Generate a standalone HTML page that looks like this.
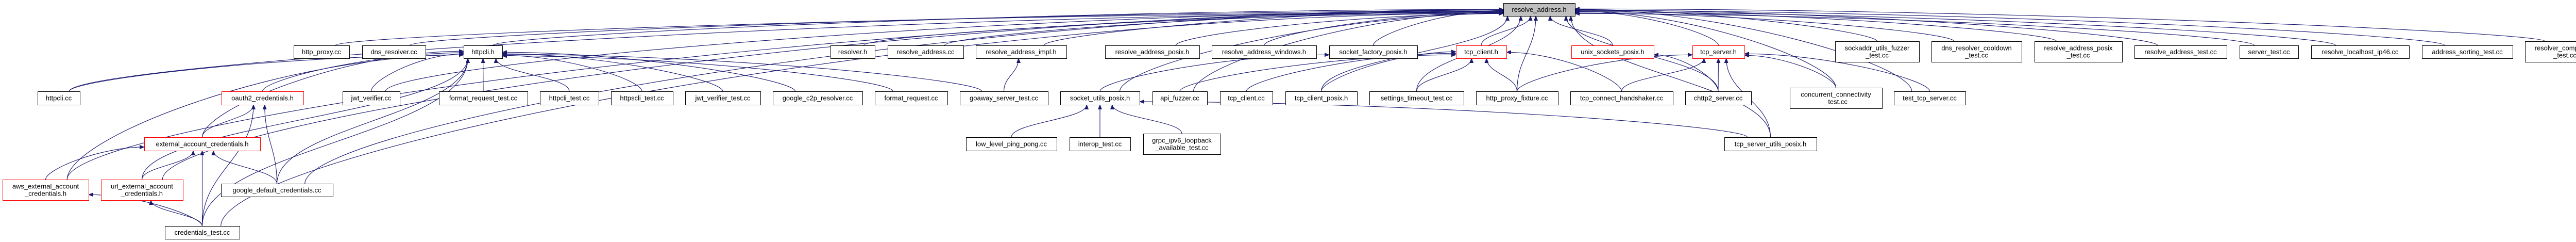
<!DOCTYPE html>
<html><head><meta charset="utf-8">
<style>
html,body{margin:0;padding:0;background:#fff;width:5058px;height:469px;overflow:hidden}
svg{display:block}
text{font-family:"Liberation Sans",sans-serif;font-size:13px;fill:#000}
</style></head>
<body>
<svg id="g" width="5058" height="469" xmlns="http://www.w3.org/2000/svg">
<defs><marker id="a" markerWidth="10" markerHeight="8" refX="9" refY="4" orient="auto" markerUnits="userSpaceOnUse"><path d="M0,0 L10,4 L0,8 Z" fill="#191970"/></marker></defs>
<g id="e"></g><g id="n"></g>
</svg>
<script>
var N={
RA:[2918,3057,6,31,'g',['resolve_address.h']],
http_proxy:[570,678,88,113,'',['http_proxy.cc']],
dns_resolver:[703,826,88,113,'',['dns_resolver.cc']],
httpcli_h:[900,975,88,113,'',['httpcli.h']],
resolver_h:[1612,1698,88,113,'',['resolver.h']],
ra_cc:[1723,1870,88,113,'',['resolve_address.cc']],
ra_impl:[1894,2070,88,113,'',['resolve_address_impl.h']],
ra_posix:[2145,2328,88,113,'',['resolve_address_posix.h']],
ra_win:[2352,2555,88,113,'',['resolve_address_windows.h']],
sfp:[2580,2751,88,113,'',['socket_factory_posix.h']],
tch_h:[2826,2924,88,113,'r',['tcp_client.h']],
usp:[3050,3210,88,113,'r',['unix_sockets_posix.h']],
tsh:[3285,3386,88,113,'r',['tcp_server.h']],
sockaddr:[3562,3725,80,120,'',['sockaddr_utils_fuzzer','_test.cc']],
dnscool:[3749,3924,80,120,'',['dns_resolver_cooldown','_test.cc']],
rapt:[3949,4119,80,120,'',['resolve_address_posix','_test.cc']],
ratest:[4143,4322,88,113,'',['resolve_address_test.cc']],
server_test:[4347,4461,88,113,'',['server_test.cc']],
localhost:[4486,4676,88,113,'',['resolve_localhost_ip46.cc']],
addrsort:[4701,4877,88,113,'',['address_sorting_test.cc']],
rescomp:[4901,5056,80,120,'',['resolver_component','_test.cc']],
httpcli_cc:[73,155,177,203,'',['httpcli.cc']],
oauth2:[430,589,177,203,'r',['oauth2_credentials.h']],
jwt_ver:[665,776,177,203,'',['jwt_verifier.cc']],
frt:[852,1024,177,203,'',['format_request_test.cc']],
httpcli_test:[1048,1162,177,203,'',['httpcli_test.cc']],
httpscli_test:[1186,1306,177,203,'',['httpscli_test.cc']],
jwt_vt:[1330,1476,177,203,'',['jwt_verifier_test.cc']],
c2p:[1500,1674,177,203,'',['google_c2p_resolver.cc']],
format_req:[1698,1839,177,203,'',['format_request.cc']],
goaway:[1863,2034,177,203,'',['goaway_server_test.cc']],
sup:[2058,2212,177,203,'',['socket_utils_posix.h']],
api_fuzzer:[2237,2343,177,203,'',['api_fuzzer.cc']],
tcp_client_cc:[2368,2470,177,203,'',['tcp_client.cc']],
tcp_client_posix:[2495,2634,177,203,'',['tcp_client_posix.h']],
settings:[2658,2841,177,203,'',['settings_timeout_test.cc']],
hpf:[2865,3024,177,203,'',['http_proxy_fixture.cc']],
tchs:[3048,3247,177,203,'',['tcp_connect_handshaker.cc']],
chttp2:[3271,3399,177,203,'',['chttp2_server.cc']],
concurrent:[3474,3653,170,210,'',['concurrent_connectivity','_test.cc']],
tts:[3676,3815,177,203,'',['test_tcp_server.cc']],
eac:[280,505,266,292,'r',['external_account_credentials.h']],
llpp:[1875,2051,266,292,'',['low_level_ping_pong.cc']],
interop:[2076,2194,266,292,'',['interop_test.cc']],
ipv6:[2219,2369,259,299,'',['grpc_ipv6_loopback','_available_test.cc']],
tsup:[3347,3526,266,292,'',['tcp_server_utils_posix.h']],
aws:[5,172,348,388,'r',['aws_external_account','_credentials.h']],
url:[196,355,348,388,'r',['url_external_account','_credentials.h']],
gdc:[429,646,356,381,'',['google_default_credentials.cc']],
ctest:[320,465,438,463,'',['credentials_test.cc']]
};
var E=[];
'http_proxy dns_resolver httpcli_h resolver_h ra_cc ra_impl ra_posix ra_win sfp tch_h usp tsh sockaddr dnscool rapt ratest server_test localhost addrsort rescomp httpcli_cc jwt_ver gdc ctest aws url sup api_fuzzer settings hpf chttp2 concurrent tts tsup tcp_client_posix'.split(' ').forEach(function(c){E.push([c,'RA'])});
'httpcli_cc frt httpcli_test httpscli_test jwt_vt c2p format_req goaway oauth2 eac aws url gdc ctest jwt_ver'.split(' ').forEach(function(c){E.push([c,'httpcli_h'])});
E.push(['eac','oauth2'],['gdc','oauth2'],['ctest','oauth2'],['aws','eac'],['url','eac'],['ctest','eac'],['gdc','eac'],['ctest','aws'],['ctest','url'],['goaway','ra_impl'],['llpp','sup'],['interop','sup'],['ipv6','sup'],['tsup','sup'],['sup','sfp']);
'api_fuzzer tcp_client_cc tcp_client_posix settings hpf tchs'.split(' ').forEach(function(c){E.push([c,'tch_h'])});
E.push(['chttp2','usp']);
'hpf tchs chttp2 concurrent tts tsup'.split(' ').forEach(function(c){E.push([c,'tsh'])});
var eg=document.getElementById('e'),ng=document.getElementById('n'),NS='http://www.w3.org/2000/svg';
var cnt={};
E.forEach(function(e){
 var c=N[e[0]],p=N[e[1]];
 var cx=(c[0]+c[1])/2, sy=c[2];
 var pcx=(p[0]+p[1])/2, pb=p[3];
 var ex,ey,d;
 var dy=sy-pb;
 if(dy<0){ // child higher than parent bottom? use child bottom
   sy=c[3];dy=sy-pb;}
 var dx=cx-pcx;
 cnt[e[1]]=(cnt[e[1]]||0)+1;
 var k=cnt[e[1]];
 if(Math.abs(dx)>3.2*Math.max(dy,20)){
   var left=dx<0;
   ex=left?p[0]:p[1];
   ey=p[2]+ (p[3]-p[2])*(0.45+0.4*((k*37)%10)/10);
   var sx=cx; 
   if(Math.abs(cx-ex)>600) sx=left? c[1]-(c[1]-c[0])*0.25 : c[0]+(c[1]-c[0])*0.25;
   d='M'+sx+','+sy+' C'+sx+','+(sy-dy*0.35)+' '+(ex+(left?-1:1)*Math.abs(sx-ex)*0.45)+','+ey+' '+ex+','+ey;
 }else{
   ex=Math.max(p[0]+8,Math.min(p[1]-8,pcx+dx*0.15));
   ey=pb;
   d='M'+cx+','+sy+' C'+cx+','+(sy-dy*0.45)+' '+ex+','+(ey+dy*0.45)+' '+ex+','+ey;
 }
 var pa=document.createElementNS(NS,'path');
 pa.setAttribute('d',d);pa.setAttribute('fill','none');pa.setAttribute('stroke','#191970');pa.setAttribute('stroke-width','1.1');pa.setAttribute('marker-end','url(#a)');
 eg.appendChild(pa);
});
for(var id in N){
 var b=N[id];
 var r=document.createElementNS(NS,'rect');
 r.setAttribute('x',b[0]+0.5);r.setAttribute('y',b[2]+0.5);r.setAttribute('width',b[1]-b[0]);r.setAttribute('height',b[3]-b[2]);
 r.setAttribute('fill',b[4]=='g'?'#bfbfbf':'#fff');
 r.setAttribute('stroke',b[4]=='r'?'#ff0000':'#000');r.setAttribute('stroke-width','1');
 ng.appendChild(r);
 var L=b[5],mx=(b[0]+b[1])/2,my=(b[2]+b[3])/2;
 L.forEach(function(s,i){
  var t=document.createElementNS(NS,'text');
  t.setAttribute('x',mx);t.setAttribute('y',my+4.5+(i-(L.length-1)/2)*14);
  t.setAttribute('text-anchor','middle');t.textContent=s;ng.appendChild(t);
 });
}
</script>
</body></html>
